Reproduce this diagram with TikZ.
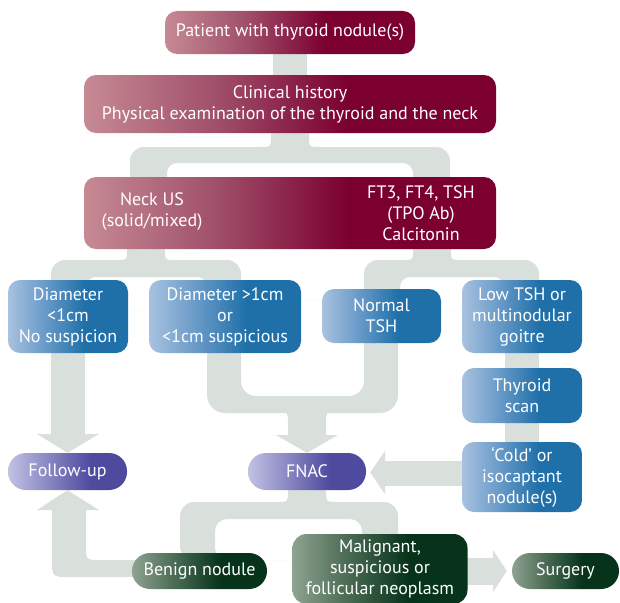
\documentclass[tikz,border=0pt]{standalone}
\usepackage{fontspec}
\setmainfont{PT Sans}
\usetikzlibrary{calc}
\definecolor{mL}{HTML}{C68A94}
\definecolor{mM}{HTML}{A0506A}
\definecolor{mD}{HTML}{7B0030}
\definecolor{bL}{HTML}{A8C2DF}
\definecolor{bM}{HTML}{6A9BC9}
\definecolor{bD}{HTML}{1F70A9}
\definecolor{pL}{HTML}{C2C2E3}
\definecolor{pM}{HTML}{8886C2}
\definecolor{pD}{HTML}{4E4A9E}
\definecolor{gL}{HTML}{8EA391}
\definecolor{gM}{HTML}{4D6D56}
\definecolor{gD}{HTML}{06331A}
\definecolor{bandgray}{HTML}{D9DFDB}
\pgfdeclarehorizontalshading{maroonsh}{100bp}{color(0bp)=(mL); color(25bp)=(mL); color(41bp)=(mM); color(57bp)=(mD); color(100bp)=(mD)}
\pgfdeclarehorizontalshading{bluesh}{100bp}{color(0bp)=(bL); color(25bp)=(bL); color(40bp)=(bM); color(57bp)=(bD); color(100bp)=(bD)}
\pgfdeclarehorizontalshading{purplesh}{100bp}{color(0bp)=(pL); color(25bp)=(pL); color(42bp)=(pM); color(60bp)=(pD); color(100bp)=(pD)}
\pgfdeclarehorizontalshading{greensh}{100bp}{color(0bp)=(gL); color(25bp)=(gL); color(40bp)=(gM); color(58bp)=(gD); color(100bp)=(gD)}
\pgfdeclarelayer{bg}
\pgfsetlayers{bg,main}
\newcommand\trunkband[4]{% center x, far y, bar y, signed fillet radius
  \fill[band] ({#1-19-abs(#4)},#3) .. controls ({#1-19},#3) .. ({#1-19},{#3+#4})
    -- ({#1-19},#2) -- ({#1+19},#2) -- ({#1+19},{#3+#4})
    .. controls ({#1+19},#3) .. ({#1+19+abs(#4)},#3)
    -- ({#1+19+abs(#4)},{#3-0.3*#4}) -- ({#1-19-abs(#4)},{#3-0.3*#4}) -- cycle;}
\tikzset{
  band/.style={fill=bandgray},
  box/.style={shade, text=white, align=center, inner sep=0pt,
    font=\fontsize{18}{21}\selectfont, rounded corners=12pt},
  mbox/.style={box, shading=maroonsh},
  bbox/.style={box, shading=bluesh},
  pbox/.style={box, shading=purplesh, rounded corners=18pt},
  gbox/.style={box, shading=greensh, rounded corners=18pt},
  gboxb/.style={box, shading=greensh, rounded corners=14pt},
  txt/.style={text=white, align=center, inner sep=0pt, font=\fontsize{18}{21}\selectfont}
}
\begin{document}
\begin{tikzpicture}[x=1pt, y=-1pt]
\useasboundingbox (0,0) rectangle (620,602);
% nodes
\node[mbox, minimum width=250pt, minimum height=43pt] (patient) at (290,32.5) {Patient with thyroid nodule(s)};
\node[mbox, minimum width=412pt, minimum height=58pt] (clinical) at (290,104) {Clinical history\\Physical examination of the thyroid and the neck};
\node[mbox, minimum width=412pt, minimum height=72pt] (neck) at (290,213) {};
\node[txt] (us) at (152,212) {Neck US\\(solid/mixed)};
\node[txt] (lab) at (421,213) {FT3, FT4, TSH\\(TPO Ab)\\Calcitonin};
\node[bbox, minimum width=120pt, minimum height=73pt] (d1) at (68,316.5) {Diameter\\<1cm\\No suspicion};
\node[bbox, minimum width=152pt, minimum height=73pt] (d2) at (225,316.5) {Diameter >1cm\\or\\<1cm suspicious};
\node[bbox, minimum width=119pt, minimum height=54pt] (ntsh) at (381.5,316) {Normal\\TSH};
\node[bbox, minimum width=120pt, minimum height=73pt] (ltsh) at (522,316.5) {Low TSH or\\multinodular\\goitre};
\node[bbox, minimum width=120pt, minimum height=55pt] (scan) at (522,395.5) {Thyroid\\scan};
\node[bbox, minimum width=120pt, minimum height=70pt] (cold) at (522,477) {‘Cold’ or\\isocaptant\\nodule(s)};
\node[pbox, minimum width=119pt, minimum height=37pt] (follow) at (67.5,471.5) {Follow-up};
\node[pbox, minimum width=118pt, minimum height=37pt] (fnac) at (307,471.5) {FNAC};
\node[gbox, minimum width=135pt, minimum height=36pt] (benign) at (199.5,571) {Benign nodule};
\node[gboxb, minimum width=175pt, minimum height=70pt] (malig) at (380,569) {Malignant,\\suspicious or\\follicular neoplasm};
\node[gbox, minimum width=107pt, minimum height=36pt] (surgery) at (565.5,571) {Surgery};
% connector bands
\begin{pgfonlayer}{bg}
% patient -> clinical
\fill[band] ($(patient.south)+(-17,-2)$) rectangle ($(clinical.north)+(17,2)$);
% clinical -> neck
\trunkband{290}{128}{147}{-10}
\fill[band, even odd rule] [rounded corners=14pt] (130,147) rectangle (450,230)
  [rounded corners=10pt] (167,163) rectangle (413,230);
% neck -> d1, d2
\trunkband{146}{244}{260}{-9}
\fill[band, even odd rule] [rounded corners=14pt] (51,260) rectangle (241,310)
  [rounded corners=10pt] (86,277) rectangle (207,310);
% neck -> ntsh, ltsh
\trunkband{432}{244}{260}{-9}
\fill[band, even odd rule] [rounded corners=14pt] (364,260) rectangle (539,310)
  [rounded corners=10pt] (400,277) rectangle (504,310);
% d1 -> follow
\fill[band] ($(d1.south)+(-17,-4)$) rectangle (85,435);
\fill[band] (37,434) -- (99,434) -- (follow.north) ++(0,-3) -- cycle;
% d2, ntsh -> fnac
\fill[band, even odd rule] [rounded corners=18pt] (207,300) rectangle (398,413)
  [rounded corners=15pt] (241,300) rectangle (364,396);
\trunkband{307}{436}{412}{11}
\fill[band] (276,435) -- (338,435) -- (fnac.north) ++(0,-4) -- cycle;
% ltsh -> scan -> cold
\fill[band] ($(ltsh.south)+(-17,-3)$) rectangle ($(scan.north)+(17,3)$);
\fill[band] ($(scan.south)+(-17,-3)$) rectangle ($(cold.north)+(17,3)$);
% cold -> fnac
\fill[band] (384,461) rectangle ($(cold.west)+(3,8.5)$);
\fill[band] (385,451) -- (385,494) -- ($(fnac.east)+(4,1)$) -- cycle;
% fnac -> benign, malig
\trunkband{307}{486}{502}{-12}
\fill[band, even odd rule] [rounded corners=14pt] (180,502) rectangle (398,560)
  [rounded corners=12pt] (215,519) rectangle (362,560);
% benign -> follow
\fill[band] (52,509) -- (52,559) .. controls (52,577) .. (70,577)
  -- ($(benign.west)+(8,6)$) -- ($(benign.west)+(8,-11)$) -- (100,560)
  .. controls (86,560) .. (86,546) -- (86,509) -- cycle;
\fill[band] (37,510) -- (99,510) -- (follow.south) ++(0,3) -- cycle;
% malig -> surgery
\fill[band] ($(malig.east)+(-3,-11)$) rectangle (494,585);
\fill[band] (493,550) -- (493,592) -- ($(surgery.west)+(-5,0)$) -- cycle;
\end{pgfonlayer}
\end{tikzpicture}
\end{document}
